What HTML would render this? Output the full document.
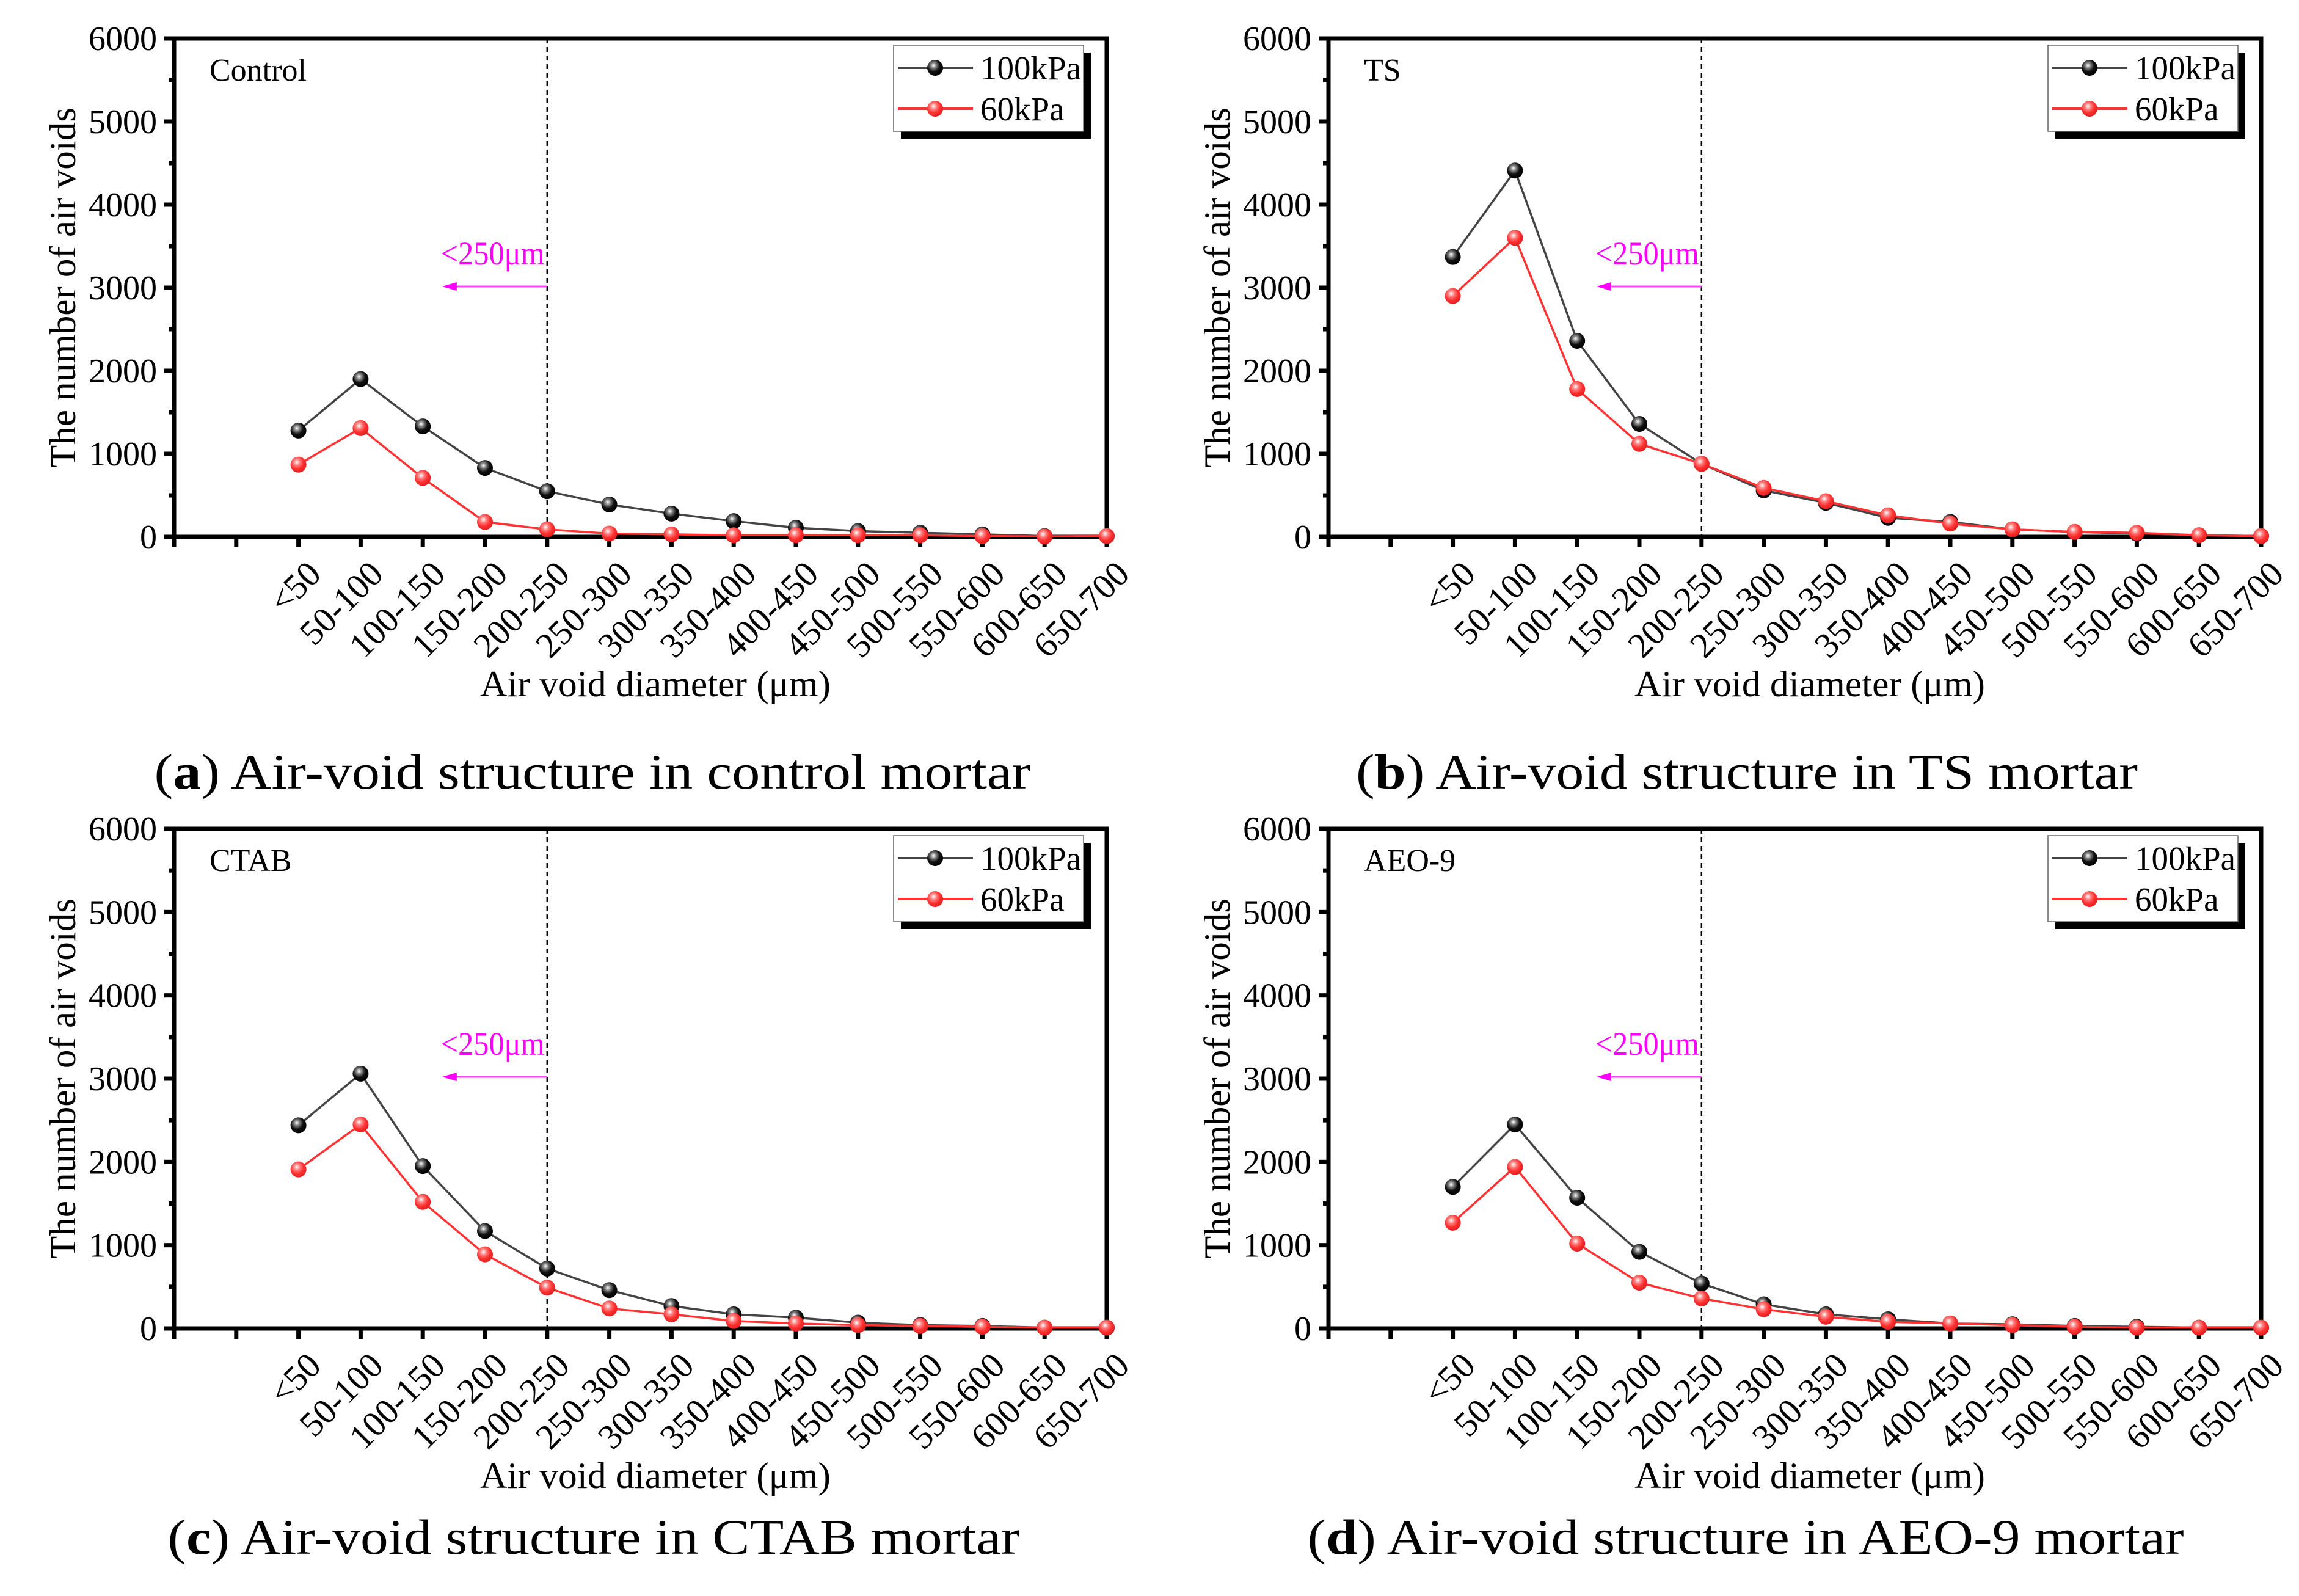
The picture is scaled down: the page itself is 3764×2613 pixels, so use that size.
<!DOCTYPE html>
<html><head><meta charset="utf-8"><style>
html,body{margin:0;padding:0;background:#fff;}
svg{display:block;}
text{font-family:"Liberation Serif",serif;}
</style></head><body>
<svg id="fig" width="3764" height="2613" viewBox="0 0 3764 2613" xmlns="http://www.w3.org/2000/svg">
<defs>
<radialGradient id="gBlack" cx="0.4" cy="0.35" r="0.65"><stop offset="0" stop-color="#fff"/><stop offset="0.25" stop-color="#888"/><stop offset="0.6" stop-color="#111"/><stop offset="1" stop-color="#000"/></radialGradient>
<radialGradient id="gRed" cx="0.4" cy="0.35" r="0.65"><stop offset="0" stop-color="#fff"/><stop offset="0.3" stop-color="#ff8080"/><stop offset="0.65" stop-color="#ff3030"/><stop offset="1" stop-color="#e02020"/></radialGradient>
</defs>
</svg>
<script>
const categories = ["<50","50-100","100-150","150-200","200-250","250-300","300-350","350-400","400-450","450-500","500-550","550-600","600-650","650-700"];
const yTicks = [0,1000,2000,3000,4000,5000,6000];
const seriesNames = ["100kPa","60kPa"];
const controlHigh = [1280,1900,1330,830,550,390,280,190,110,70,50,30,10,10];
const controlLow  = [870,1310,710,180,90,40,30,20,20,20,20,10,5,10];
const tsHigh = [3370,4410,2360,1360,880,560,410,230,180,90,60,40,20,10];
const tsLow  = [2900,3600,1780,1120,880,590,430,260,160,90,60,50,20,10];
const ctabHigh = [2440,3060,1950,1170,720,460,270,170,130,70,40,30,10,10];
const ctabLow  = [1910,2450,1520,890,490,240,170,90,60,40,30,20,10,10];
const aeoHigh = [1700,2450,1570,920,540,290,170,110,60,50,30,20,10,10];
const aeoLow  = [1270,1940,1020,550,360,230,140,80,60,40,20,10,10,10];
const panelLabels = ["Control","TS","CTAB","AEO-9"];
const captionLetters = ["a","b","c","d"];
const captionTexts = [" Air-void structure in control mortar"," Air-void structure in TS mortar"," Air-void structure in CTAB mortar"," Air-void structure in AEO-9 mortar"];

const NS="http://www.w3.org/2000/svg";
const svg=document.getElementById('fig');
function mk(tag,attrs,parent){const e=document.createElementNS(NS,tag);for(const k in attrs)e.setAttribute(k,attrs[k]);(parent||svg).appendChild(e);return e;}

const panels=[
 {L:285,T:63,B:879,hi:controlHigh,lo:controlLow,cap:{cx:970,y:1291,w:1435}},
 {L:2175,T:63,B:879,hi:tsHigh,lo:tsLow,cap:{cx:2860,y:1291,w:1280}},
 {L:285,T:1357,B:2175,hi:ctabHigh,lo:ctabLow,cap:{cx:972,y:2544,w:1395}},
 {L:2175,T:1357,B:2175,hi:aeoHigh,lo:aeoLow,cap:{cx:2858,y:2544,w:1435}}
];
const W=1527, step=W/15;

panels.forEach((p,pi)=>{
 const g=mk('g',{});
 
 
 const R=p.L+W;
 const xs=i=>p.L+(i+2)*step;
 const ys=v=>p.B-(v/6000)*(p.B-p.T);
 const fr=mk('rect',{x:p.L,y:p.T,width:W,height:p.B-p.T,fill:'none',stroke:'#000','stroke-width':7},g);
 
 
 for(let v=0;v<=6000;v+=500){
  const y=ys(v);const major=v%1000===0;
  mk('line',{x1:p.L-(major?16:9),x2:p.L,y1:y,y2:y,stroke:'#000','stroke-width':7},g);
 }
 yTicks.forEach(v=>{
  const t=mk('text',{x:p.L-28,y:ys(v)+19,'font-size':56,'text-anchor':'end',textLength:String(v).length*28,lengthAdjust:'spacingAndGlyphs'},g);
  t.textContent=v;
  
  
 });
 for(let i=-2;i<=13;i++){
  const x=xs(i);
  mk('line',{x1:x,x2:x,y1:p.B,y2:p.B+17,stroke:'#000','stroke-width':7},g);
 }
 categories.forEach((c,i)=>{
  const x=xs(i)+40, y=p.B+64;
  const t=mk('text',{x:x,y:y,'font-size':58,'text-anchor':'end',transform:`rotate(-45 ${x} ${y})`},g);
  t.textContent=c;
  
  
 });
 const xt=mk('text',{x:p.L+788,y:p.B+261,'font-size':60,'text-anchor':'middle',textLength:574,lengthAdjust:'spacingAndGlyphs'},g);
 xt.textContent='Air void diameter (μm)';
 
 
 const ycx=p.L-162, ycy=(p.T+p.B)/2;
 const yt=mk('text',{x:ycx,y:ycy,'font-size':60,'text-anchor':'middle',textLength:590,lengthAdjust:'spacingAndGlyphs',transform:`rotate(-90 ${ycx} ${ycy})`},g);
 yt.textContent='The number of air voids';
 
 
 const pl=mk('text',{x:p.L+58,y:p.T+69,'font-size':52},g);
 pl.textContent=panelLabels[pi];
 
 
 const dx=xs(4);
 const dl=mk('line',{x1:dx,x2:dx,y1:p.T,y2:p.B,stroke:'#000','stroke-width':2.5,'stroke-dasharray':'8,6'},g);
 
 
 const mt=mk('text',{x:dx-4,y:p.T+370,'font-size':54,fill:'#ff00ff','text-anchor':'end',textLength:170,lengthAdjust:'spacingAndGlyphs'},g);
 mt.textContent='<250μm';
 
 
 const ay=p.T+406;
 const al=mk('line',{x1:dx,x2:dx-150,y1:ay,y2:ay,stroke:'#ff40ff','stroke-width':3},g);
 
 
 mk('polygon',{points:`${dx-172},${ay} ${dx-148},${ay-7} ${dx-148},${ay+7}`,fill:'#ff00ff'},g);
 const ser=[{d:p.hi,c:'#444',grad:'url(#gBlack)',n:'high'},{d:p.lo,c:'#ff3333',grad:'url(#gRed)',n:'low'}];
 ser.forEach(s=>{
  const pts=s.d.map((v,i)=>xs(i)+','+ys(v)).join(' ');
  const pl2=mk('polyline',{points:pts,fill:'none',stroke:s.c,'stroke-width':3.5},g);
  
  
  s.d.forEach((v,i)=>{
   const m=mk('circle',{cx:xs(i),cy:ys(v),r:13,fill:s.grad},g);
   
   
  });
 });
 const lx=R-349, ly=p.T+11;
 mk('rect',{x:lx+12,y:ly+12,width:311,height:141,fill:'#000'},g);
 const lb=mk('rect',{x:lx,y:ly,width:311,height:141,fill:'#fff',stroke:'#666','stroke-width':1.5},g);
 
 
 seriesNames.forEach((n,k)=>{
  const yy=ly+37+k*67;
  mk('line',{x1:lx+7,x2:lx+130,y1:yy,y2:yy,stroke:k?'#ff3333':'#444','stroke-width':4},g);
  mk('circle',{cx:lx+68,cy:yy,r:13,fill:k?'url(#gRed)':'url(#gBlack)'},g);
  const lt=mk('text',{x:lx+142,y:yy+19,'font-size':55},g);
  lt.textContent=n;
  
  
 });
 const ct=mk('text',{x:p.cap.cx,y:p.cap.y,'font-size':82,'text-anchor':'middle',textLength:p.cap.w,lengthAdjust:'spacingAndGlyphs'},svg);
 
 
 const t1=document.createElementNS(NS,'tspan');t1.textContent='(';ct.appendChild(t1);
 const t2=document.createElementNS(NS,'tspan');t2.setAttribute('font-weight','bold');t2.textContent=captionLetters[pi];ct.appendChild(t2);
 const t3=document.createElementNS(NS,'tspan');t3.textContent=')'+captionTexts[pi];ct.appendChild(t3);
});
</script>
</body></html>
